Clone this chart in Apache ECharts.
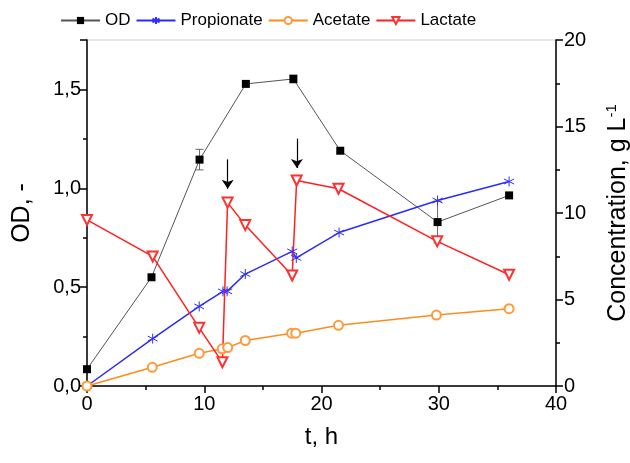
<!DOCTYPE html>
<html>
<head>
<meta charset="utf-8">
<script src="https://cdn.jsdelivr.net/npm/echarts@6/dist/echarts.min.js"></script>
<style>html,body{margin:0;padding:0;background:#fff;}#c{width:630px;height:463px;}</style>
</head>
<body>
<div id="c"></div>
<script>
// ---- data ----
const odTime = [0, 5.5, 9.6, 13.55, 17.6, 21.6, 29.9, 36.0];
const odVal  = [0.085, 0.55, 1.145, 1.528, 1.553, 1.19, 0.829, 0.964];
const odErr  = [0, 0, 0.052, 0.01, 0.02, 0, 0.105, 0];

const propTime = [0, 5.6, 9.57, 11.6, 11.95, 13.5, 17.5, 17.85, 21.5, 29.9, 36.0];
const propVal  = [0, 2.74, 4.6, 5.47, 5.47, 6.47, 7.78, 7.4, 8.87, 10.72, 11.82];

const aceTime = [0, 5.57, 9.57, 11.53, 12.0, 13.5, 17.45, 17.8, 21.45, 29.8, 36.0];
const aceVal  = [0, 1.08, 1.89, 2.15, 2.22, 2.63, 3.05, 3.05, 3.51, 4.1, 4.47];

const lacTime = [0, 5.6, 9.57, 11.55, 11.99, 13.5, 17.5, 17.88, 21.45, 29.87, 36.0];
const lacVal  = [9.6, 7.49, 3.36, 1.37, 10.6, 9.3, 6.39, 11.88, 11.4, 8.36, 6.43];

// feeding arrows: [t, from, to] in concentration units
const arrows = [[12.0, 13.1, 11.4], [17.9, 14.3, 12.6]];

const legendNames = ['OD', 'Propionate', 'Acetate', 'Lactate'];

// ---- build ----
const zip = (a, b) => a.map((x, i) => [x, b[i]]);
const comma = v => v.toFixed(1).replace('.', ',');
const FONT = 'Liberation Sans, Arial, sans-serif';

const chart = echarts.init(document.getElementById('c'));
chart.setOption({
  animation: false,
  backgroundColor: '#fff',
  textStyle: { fontFamily: FONT },
  legend: {
    data: legendNames,
    top: 7, left: 55,
    itemWidth: 39, itemHeight: 9, itemGap: 5,
    textStyle: { fontSize: 17, color: '#000', fontFamily: FONT }
  },
  grid: {
    left: 87, right: 74, top: 40, bottom: 77,
    outerBoundsMode: 'none', containLabel: false,
    show: true, borderColor: '#cccccc', borderWidth: 1
  },
  xAxis: {
    type: 'value', min: 0, max: 40, interval: 10,
    name: 't, h', nameLocation: 'middle', nameGap: 39,
    nameTextStyle: { fontSize: 24, color: '#000', fontFamily: FONT },
    axisLine: { show: true, lineStyle: { color: '#000', width: 1.5 } },
    axisTick: { show: true, length: 7, lineStyle: { color: '#000', width: 1.5 } },
    minorTick: { show: true, splitNumber: 2, length: 4, lineStyle: { color: '#000', width: 1.5 } },
    axisLabel: { fontSize: 20, color: '#000', margin: 8 },
    splitLine: { show: false }
  },
  yAxis: [{
    type: 'value', min: 0, max: 1.75, interval: 0.5, position: 'left',
    name: 'OD, -', nameLocation: 'middle', nameGap: 52, nameRotate: 90,
    nameTextStyle: { fontSize: 25, color: '#000', fontFamily: FONT },
    axisLine: { show: true, lineStyle: { color: '#000', width: 1.5 } },
    axisTick: { show: true, length: 7, lineStyle: { color: '#000', width: 1.5 } },
    minorTick: { show: true, splitNumber: 2, length: 4, lineStyle: { color: '#000', width: 1.5 } },
    axisLabel: { fontSize: 20, color: '#000', margin: 6,
      formatter: v => (Math.abs(v / 0.5 - Math.round(v / 0.5)) < 1e-6) ? comma(v) : '' },
    splitLine: { show: false }
  }, {
    type: 'value', min: 0, max: 20, interval: 5, position: 'right',
    name: 'Concentration, g L{sup|-1}', nameLocation: 'middle', nameGap: 48, nameRotate: 90,
    nameTextStyle: { fontSize: 25, color: '#000', fontFamily: FONT, verticalAlign: 'top',
      rich: { sup: { fontSize: 15, verticalAlign: 'top', padding: [0, 0, 13, 0], fontFamily: FONT, color: '#000' } } },
    axisLine: { show: true, lineStyle: { color: '#000', width: 1.5 } },
    axisTick: { show: true, length: 7, lineStyle: { color: '#000', width: 1.5 } },
    minorTick: { show: true, splitNumber: 2, length: 4, lineStyle: { color: '#000', width: 1.5 } },
    axisLabel: { fontSize: 20, color: '#000', margin: 8 },
    splitLine: { show: false }
  }],
  series: [
    {
      name: 'OD-err', type: 'custom', yAxisIndex: 0, z: 1, silent: true,
      data: odTime.map((t, i) => [t, odVal[i], odErr[i]]),
      renderItem: (params, api) => {
        const e = api.value(2);
        if (!e) return null;
        const t = api.value(0), v = api.value(1);
        const hi = api.coord([t, v + e]), lo = api.coord([t, v - e]);
        const w = 4;
        const st = { stroke: '#666', lineWidth: 1 };
        return { type: 'group', children: [
          { type: 'line', shape: { x1: hi[0], y1: hi[1], x2: lo[0], y2: lo[1] }, style: st },
          { type: 'line', shape: { x1: hi[0] - w, y1: hi[1], x2: hi[0] + w, y2: hi[1] }, style: st },
          { type: 'line', shape: { x1: lo[0] - w, y1: lo[1], x2: lo[0] + w, y2: lo[1] }, style: st }
        ] };
      }
    },
    {
      name: 'OD', type: 'line', yAxisIndex: 0, z: 3,
      data: zip(odTime, odVal),
      symbol: 'rect', symbolSize: 8,
      itemStyle: { color: '#000' },
      lineStyle: { color: '#555', width: 1 }
    },
    {
      name: 'Propionate', type: 'line', yAxisIndex: 1, z: 4,
      data: zip(propTime, propVal),
      symbol: 'path://M0,-6L0,6M-5.2,-3L5.2,3M-5.2,3L5.2,-3', symbolSize: 10,
      itemStyle: { color: '#3030ff', borderColor: '#3030ff', borderWidth: 1 },
      lineStyle: { color: '#2a2aff', width: 1.5 }
    },
    {
      name: 'Acetate', type: 'line', yAxisIndex: 1, z: 4,
      data: zip(aceTime, aceVal),
      symbol: 'emptyCircle', symbolSize: 9,
      itemStyle: { color: '#ff9a3c', borderWidth: 1 },
      lineStyle: { color: '#ff8c1a', width: 1.5 }
    },
    {
      name: 'Lactate', type: 'line', yAxisIndex: 1, z: 4,
      data: zip(lacTime, lacVal),
      symbol: 'emptyTriangle', symbolRotate: 180, symbolSize: 10,
      itemStyle: { color: '#ff3030', borderWidth: 1 },
      lineStyle: { color: '#ff2020', width: 1.5 },
      markLine: {
        silent: true, symbol: ['none', 'arrow'], symbolSize: 9,
        label: { show: false },
        lineStyle: { color: '#000', type: 'solid', width: 1.2 },
        data: arrows.map(a => [{ coord: [a[0], a[1]] }, { coord: [a[0], a[2]] }])
      }
    }
  ]
});
</script>
</body>
</html>
